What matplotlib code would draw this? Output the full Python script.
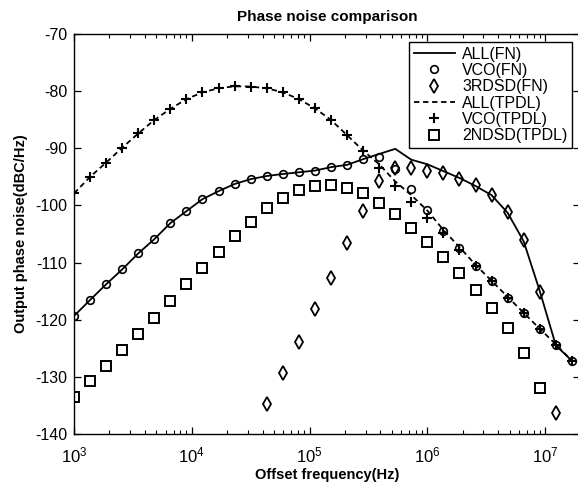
import numpy as np
import matplotlib
matplotlib.use("Agg")
import matplotlib.pyplot as plt
from matplotlib.ticker import LogLocator, NullFormatter

plt.rcParams['font.family'] = ['Liberation Sans', 'DejaVu Sans']
plt.rcParams['axes.unicode_minus'] = False

# offset frequencies (Hz), one sample per marker
freq = [1000, 1369, 1874, 2566, 3513, 4808, 6582, 9012, 12336, 16889,
        23121, 31652, 43331, 59320, 81208, 111170, 152200, 208350, 285230, 390480,
        534560, 731800, 1001800, 1371500, 1877600, 2570400, 3518800, 4817200, 6594700, 9028100,
        12359000, 16920000]

all_fn = [-119.35, -116.55, -113.8, -111.2, -108.4, -105.9, -103.1, -101.0, -98.9, -97.5,
          -96.25, -95.4, -94.85, -94.5, -94.2, -93.9, -93.3, -92.9, -91.9, -91.0,
          -90.1, -92.0, -92.8, -94.0, -95.2, -96.6, -98.2, -101.3, -106.3, -115.0,
          -124.5, -127.2]

vco_fn = [-119.35, -116.55, -113.8, -111.2, -108.4, -105.9, -103.1, -101.0, -98.9, -97.5,
          -96.25, -95.4, -94.85, -94.5, -94.2, -93.9, -93.3, -92.9, -91.9, -91.5,
          -93.6, -97.2, -100.8, -104.5, -107.4, -110.55, -113.3, -116.15, -118.9, -121.7,
          -124.4, -127.2]

sd3_fn = [np.nan] * 12 + [-134.8, -129.4, -123.9, -118.2, -112.65, -106.6, -100.9, -95.8,
                          -93.4, -93.5, -94.0, -94.4, -95.4, -96.5, -98.2, -101.2, -106.05, -115.1,
                          -136.3, np.nan]

all_tpdl = [-97.9, -95.0, -92.5, -89.9, -87.4, -85.05, -83.1, -81.4, -80.2, -79.5,
            -79.15, -79.2, -79.5, -80.2, -81.4, -83.0, -85.05, -87.7, -90.4, -92.8,
            -95.8, -98.2, -100.9, -104.3, -107.3, -110.4, -113.2, -116.0, -118.8, -121.6,
            -124.3, -127.2]

vco_tpdl = [-97.9, -95.0, -92.5, -89.9, -87.4, -85.05, -83.1, -81.4, -80.2, -79.5,
            -79.15, -79.2, -79.5, -80.2, -81.4, -83.0, -85.05, -87.7, -90.4, -93.4,
            -96.55, -99.4, -102.15, -104.9, -107.8, -110.6, -113.3, -116.15, -118.9, -121.7,
            -124.4, -127.2]

sd2_tpdl = [-133.5, -130.7, -128.1, -125.3, -122.55, -119.65, -116.7, -113.8, -110.9, -108.1,
            -105.3, -102.85, -100.5, -98.65, -97.3, -96.6, -96.5, -96.9, -97.9, -99.5,
            -101.5, -104.0, -106.35, -109.1, -111.9, -114.8, -118.0, -121.4, -125.8, -131.9,
            np.nan, np.nan]

yticks = [-140, -130, -120, -110, -100, -90, -80, -70]

fig = plt.figure(figsize=(5.78, 4.82), dpi=100)
ax = fig.add_axes([74 / 578, 48 / 482, 506 / 578, 400 / 482])

ax.plot(freq, all_fn, '-', color='k', lw=1.3, label='ALL(FN)')
ax.plot(freq, vco_fn, 'o', color='k', mfc='none', ms=5.5, mew=1.2, label='VCO(FN)')
ax.plot(freq, sd3_fn, 'd', color='k', mfc='none', ms=7, mew=1.3, label='3RDSD(FN)')
ax.plot(freq, all_tpdl, '--', color='k', lw=1.3, dashes=(3, 2), label='ALL(TPDL)')
ax.plot(freq, vco_tpdl, '+', color='k', ms=7, mew=1.5, label='VCO(TPDL)')
ax.plot(freq, sd2_tpdl, 's', color='k', mfc='none', ms=6.5, mew=1.4, label='2NDSD(TPDL)')

ax.set_xscale('log')
ax.set_xlim(1e3, 10 ** 7.297)
ax.set_ylim(-140, -70)
ax.set_yticks(yticks)
ax.xaxis.set_major_locator(LogLocator(base=10, numticks=10))
ax.xaxis.set_minor_locator(LogLocator(base=10, subs=np.arange(2, 10), numticks=20))
ax.xaxis.set_minor_formatter(NullFormatter())
ax.tick_params(which='both', direction='in', top=True, right=True, labelsize=11.5)
ax.tick_params(which='major', length=5, width=0.9)
ax.tick_params(which='minor', length=3, width=0.8)
ax.tick_params(axis='x', which='major', pad=8, labelsize=12)
ax.tick_params(axis='y', pad=5)
for s in ax.spines.values():
    s.set_linewidth(1.0)

ax.set_title('Phase noise comparison', fontsize=11, fontweight='bold', pad=9)
ax.set_xlabel('Offset frequency(Hz)', fontsize=10.5, fontweight='bold', labelpad=2)
ax.set_ylabel('Output phase noise(dBC/Hz)', fontsize=10.5, fontweight='bold', labelpad=5)

leg = ax.legend(loc='upper right', bbox_to_anchor=(0.985, 0.98), fontsize=11.5,
                fancybox=False, edgecolor='k', framealpha=1, handlelength=2.6,
                labelspacing=0.08, borderpad=0.3, handletextpad=0.45, borderaxespad=0)
leg.get_frame().set_linewidth(1.0)

fig.savefig('out.png', dpi=100)
